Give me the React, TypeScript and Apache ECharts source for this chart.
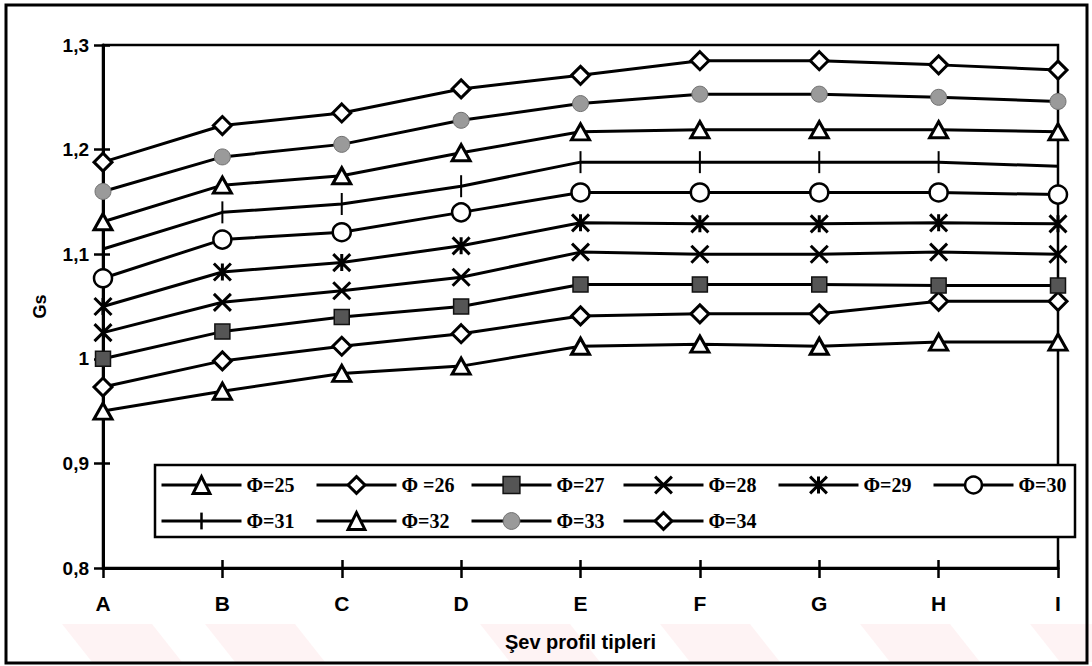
import React, { useEffect, useRef } from 'react';
import * as echarts from 'echarts';

// ---------- data ----------
const categories = ['A', 'B', 'C', 'D', 'E', 'F', 'G', 'H', 'I'];
const seriesNames = ['Φ=25', 'Φ =26', 'Φ=27', 'Φ=28', 'Φ=29', 'Φ=30', 'Φ=31', 'Φ=32', 'Φ=33', 'Φ=34'];
const phi25 = [0.950, 0.969, 0.986, 0.993, 1.012, 1.014, 1.012, 1.016, 1.016];
const phi26 = [0.973, 0.998, 1.012, 1.024, 1.041, 1.043, 1.043, 1.055, 1.055];
const phi27 = [1.000, 1.026, 1.040, 1.050, 1.071, 1.071, 1.071, 1.070, 1.070];
const phi28 = [1.025, 1.054, 1.065, 1.078, 1.102, 1.100, 1.100, 1.102, 1.100];
const phi29 = [1.050, 1.083, 1.092, 1.108, 1.130, 1.129, 1.129, 1.130, 1.129];
const phi30 = [1.077, 1.114, 1.121, 1.140, 1.159, 1.159, 1.159, 1.159, 1.157];
const phi31 = [1.105, 1.140, 1.148, 1.165, 1.188, 1.188, 1.188, 1.188, 1.184];
const phi32 = [1.131, 1.166, 1.175, 1.197, 1.217, 1.219, 1.219, 1.219, 1.217];
const phi33 = [1.160, 1.193, 1.205, 1.228, 1.244, 1.253, 1.253, 1.250, 1.246];
const phi34 = [1.188, 1.223, 1.235, 1.258, 1.271, 1.285, 1.285, 1.281, 1.276];
const seriesValues = [phi25, phi26, phi27, phi28, phi29, phi30, phi31, phi32, phi33, phi34];
const yMin = 0.8;
const yMax = 1.3;
const yInterval = 0.1;
const xAxisTitle = 'Şev profil tipleri';
const yAxisTitle = 'Gs';

// ---------- styles ----------
const X_PATH = 'path://M0 0L10 10M10 0L0 10';
const AST_PATH = 'path://M0 0L10 10M10 0L0 10M5 0L5 10';
const BAR_PATH = 'path://M0 0M5 0L5 10M10 10';

const markerStyles: any[] = [
  { symbol: 'triangle', size: [18, 16], fill: '#fff', border: '#000', bw: 3 },
  { symbol: 'diamond', size: 18, fill: '#fff', border: '#000', bw: 3 },
  { symbol: 'rect', size: 15, fill: '#555', border: '#111', bw: 1.5 },
  { symbol: X_PATH, size: 17, fill: '#000', border: '#000', bw: 3 },
  { symbol: AST_PATH, size: 17, fill: '#000', border: '#000', bw: 3 },
  { symbol: 'circle', size: 18, fill: '#fff', border: '#000', bw: 2.5 },
  { symbol: BAR_PATH, size: [14, 22], fill: '#000', border: '#000', bw: 2.5 },
  { symbol: 'triangle', size: [18, 16], fill: '#fff', border: '#000', bw: 3 },
  { symbol: 'circle', size: 16, fill: '#9a9a9a', border: '#707070', bw: 1 },
  { symbol: 'diamond', size: 18, fill: '#fff', border: '#000', bw: 3 },
];

const legendCols = [160, 315, 470, 622, 777, 932];
const legendRows = [475, 511];

const SANS = 'Liberation Sans, Arial, sans-serif';
const SERIF = 'Liberation Serif, Times New Roman, serif';

const fmt = (v: number) => String(+v.toFixed(1)).replace('.', ',');

export default function App() {
  const ref = useRef<HTMLDivElement>(null);

  useEffect(() => {
    if (!ref.current) return;
    const chart = echarts.init(ref.current, undefined, { renderer: 'svg' });

    const series = seriesNames.map((name, i) => {
      const m = markerStyles[i];
      return {
        name,
        type: 'line',
        data: seriesValues[i],
        symbol: m.symbol,
        symbolSize: m.size,
        showSymbol: true,
        lineStyle: { color: '#000', width: 3 },
        itemStyle: { color: m.fill, borderColor: m.border, borderWidth: m.bw },
        emphasis: { disabled: true },
        z: 3,
      };
    });

    const legends = seriesNames.map((name, i) => {
      const row = i < 6 ? 0 : 1;
      const col = i < 6 ? i : i - 6;
      const m = markerStyles[i];
      return {
        data: [name],
        left: legendCols[col],
        top: legendRows[row],
        padding: 0,
        itemWidth: 80,
        itemHeight: 21,
        selectedMode: false,
        z: 6,
        lineStyle: { color: '#000', width: 3, cap: 'butt' },
        itemStyle: { color: m.fill, borderColor: m.border, borderWidth: m.bw },
        textStyle: { fontFamily: SERIF, fontSize: 20, fontWeight: 'bold', color: '#000' },
      };
    });

    const stripes = [62, 205, 480, 660, 860, 1030].map((x) => ({
      type: 'polygon',
      z: -1,
      silent: true,
      shape: { points: [[x, 624], [x + 90, 624], [x + 120, 662], [x + 30, 662]] },
      style: { fill: 'rgba(235, 90, 100, 0.07)' },
    }));

    chart.setOption({
      animation: false,
      backgroundColor: '#fff',
      grid: {
        left: 103,
        top: 45,
        right: 34,
        bottom: 98,
        show: true,
        borderColor: '#000',
        borderWidth: 2.5,
        backgroundColor: 'transparent',
      },
      xAxis: [
        {
          type: 'category',
          data: categories,
          boundaryGap: false,
          position: 'bottom',
          axisLine: { lineStyle: { color: '#000', width: 3 } },
          axisTick: { show: true, length: 10, lineStyle: { color: '#000', width: 2.5 } },
          axisLabel: { color: '#000', fontFamily: SANS, fontWeight: 'bold', fontSize: 21, margin: 25 },
          splitLine: { show: false },
          name: xAxisTitle,
          nameLocation: 'middle',
          nameGap: 64,
          nameTextStyle: { color: '#000', fontFamily: SANS, fontWeight: 'bold', fontSize: 20 },
        },
        {
          type: 'category',
          data: categories,
          boundaryGap: false,
          position: 'bottom',
          offset: 0,
          axisLine: { show: false },
          axisTick: { show: true, inside: true, length: 8, lineStyle: { color: '#000', width: 2.5 } },
          axisLabel: { show: false },
          splitLine: { show: false },
        },
      ],
      yAxis: [
        {
          type: 'value',
          min: yMin,
          max: yMax,
          interval: yInterval,
          position: 'left',
          axisLine: { show: true, lineStyle: { color: '#000', width: 3 } },
          axisTick: { show: true, length: 9, lineStyle: { color: '#000', width: 2.5 } },
          axisLabel: { color: '#000', fontFamily: SANS, fontWeight: 'bold', fontSize: 19, margin: 14, formatter: fmt },
          splitLine: { show: false },
          name: yAxisTitle,
          nameLocation: 'middle',
          nameGap: 54,
          nameTextStyle: { color: '#000', fontFamily: SANS, fontWeight: 'bold', fontSize: 18 },
        },
        {
          type: 'value',
          min: yMin,
          max: yMax,
          interval: yInterval,
          position: 'left',
          offset: 0,
          axisLine: { show: false },
          axisTick: { show: true, inside: true, length: 7, lineStyle: { color: '#000', width: 2.5 } },
          axisLabel: { show: false },
          splitLine: { show: false },
        },
      ],
      legend: legends,
      graphic: [
        ...stripes,
        {
          type: 'rect',
          z: 5,
          silent: true,
          shape: { x: 155, y: 465, width: 920, height: 72 },
          style: { fill: '#fff', stroke: '#000', lineWidth: 2.5 },
        },
        {
          type: 'rect',
          z: 10,
          silent: true,
          shape: { x: 6, y: 5, width: 1081, height: 658 },
          style: { fill: 'none', stroke: '#000', lineWidth: 3 },
        },
      ],
      series,
    });

    return () => chart.dispose();
  }, []);

  return (
    <div
      ref={ref}
      style={{ position: 'absolute', left: 0, top: 0, width: 1092, height: 666 }}
    />
  );
}
